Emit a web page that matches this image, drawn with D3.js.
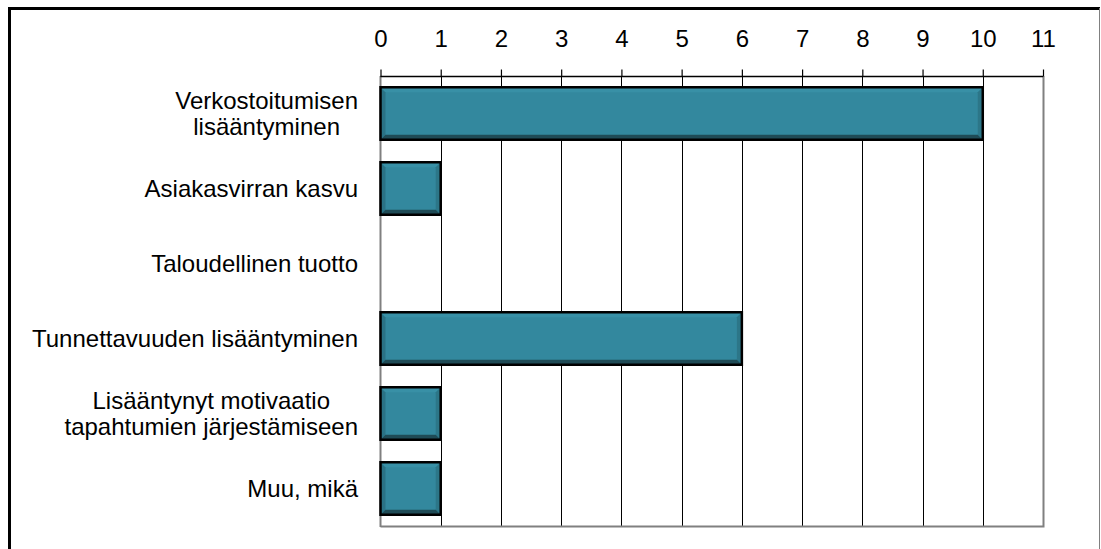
<!DOCTYPE html>
<html>
<head>
<meta charset="utf-8">
<script src="https://cdn.jsdelivr.net/npm/d3@7"></script>
<style>
  body { margin: 0; background: #fff; }
  text { font-family: "Liberation Sans", Arial, sans-serif; fill: #000; }
</style>
</head>
<body>
<div id="chart"></div>
<script>
//Data
var categories = [
	["Verkostoitumisen", "lisääntyminen"],
	["Asiakasvirran kasvu"],
	["Taloudellinen tuotto"],
	["Tunnettavuuden lisääntyminen"],
	["Lisääntynyt motivaatio", "tapahtumien järjestämiseen"],
	["Muu, mikä"]
];
var values = [10, 1, 0, 6, 1, 1];
var tickValues = [0, 1, 2, 3, 4, 5, 6, 7, 8, 9, 10, 11];

var W = 1101, H = 549;

var svg = d3.select("#chart").append("svg")
	.attr("width", W)
	.attr("height", H);

//Outer frame
svg.append("path")
	.attr("d", "M9.5,549 L9.5,8.5 L1100,8.5")
	.style("fill", "none")
	.style("stroke", "#000")
	.style("stroke-width", 3);
svg.append("line")
	.attr("x1", 1099.5).attr("x2", 1099.5)
	.attr("y1", 8).attr("y2", 549)
	.style("stroke", "#808080")
	.style("stroke-width", 1);

//Scales
var x = d3.scaleLinear()
	.domain([0, 11])
	.range([380.5, 1043]);

var y = d3.scaleBand()
	.domain(d3.range(categories.length))
	.range([76, 526])
	.paddingInner(0.3)
	.paddingOuter(0.15);

var plotTop = 76, plotBottom = 526;

//Gridlines
svg.append("g").selectAll("line")
	.data(tickValues.slice(1, -1))
	.enter().append("line")
	.attr("x1", function(d) { return Math.round(x(d)) + 0.5; })
	.attr("x2", function(d) { return Math.round(x(d)) + 0.5; })
	.attr("y1", plotTop)
	.attr("y2", plotBottom)
	.style("stroke", "#000")
	.style("stroke-width", 1);

//Plot frame (right and bottom gray)
svg.append("path")
	.attr("d", "M" + (Math.round(x(11)) + 0.5) + "," + plotTop + " L" + (Math.round(x(11)) + 0.5) + "," + (plotBottom + 0.5) + " L" + x(0) + "," + (plotBottom + 0.5))
	.style("fill", "none")
	.style("stroke", "#808080")
	.style("stroke-width", 2);

//Left axis line
svg.append("line")
	.attr("x1", x(0)).attr("x2", x(0))
	.attr("y1", plotTop).attr("y2", plotBottom + 1)
	.style("stroke", "#808080")
	.style("stroke-width", 2);

//Top axis
var xAxis = d3.axisTop(x)
	.tickValues(tickValues)
	.tickSize(7)
	.tickPadding(23)
	.tickFormat(d3.format("d"));

var axisG = svg.append("g")
	.attr("transform", "translate(0," + (plotTop + 0.5) + ")")
	.call(xAxis);
axisG.select(".domain")
	.attr("d", "M" + x(0) + ",0H" + x(11))
	.style("stroke", "#000")
	.style("stroke-width", 1.5);
axisG.selectAll(".tick line").style("stroke", "#000").style("stroke-width", 1.2);
axisG.selectAll(".tick text")
	.style("font-size", "24px")
	.style("font-family", "'Liberation Sans', Arial, sans-serif")
	.attr("fill", "#000");

//Bars with bevel
var b = 5;
var barG = svg.append("g").selectAll("g")
	.data(values.map(function(v, i) { return {v: v, i: i}; }).filter(function(d) { return d.v > 0; }))
	.enter().append("g");

function poly(pts) { return "M" + pts.map(function(p) { return p.join(","); }).join("L") + "Z"; }

barG.each(function(d) {
	var g = d3.select(this);
	var x0 = x(0), x1 = x(d.v), y0 = y(d.i), y1 = y(d.i) + y.bandwidth();
	g.append("rect")
		.attr("x", x0).attr("y", y0)
		.attr("width", x1 - x0).attr("height", y1 - y0)
		.style("fill", "#33889E");
	//left bevel
	g.append("path").attr("d", poly([[x0, y0], [x0 + b, y0 + b], [x0 + b, y1 - b], [x0, y1]])).style("fill", "#2A7285");
	//top bevel
	g.append("path").attr("d", poly([[x0, y0], [x1, y0], [x1 - b, y0 + b], [x0 + b, y0 + b]])).style("fill", "#3890A6");
	//right bevel
	g.append("path").attr("d", poly([[x1, y0], [x1, y1], [x1 - b, y1 - b], [x1 - b, y0 + b]])).style("fill", "#2C7688");
	//bottom bevel
	g.append("path").attr("d", poly([[x0, y1], [x0 + b, y1 - b], [x1 - b, y1 - b], [x1, y1]])).style("fill", "#1F4B56");
	//outline
	g.append("rect")
		.attr("x", x0).attr("y", y0)
		.attr("width", x1 - x0).attr("height", y1 - y0)
		.style("fill", "none")
		.style("stroke", "#000")
		.style("stroke-width", 2.5);
});

//Category labels
var labelRight = 358;
var lineH = 26;
var labelG = svg.append("g");
categories.forEach(function(lines, i) {
	var cy = y(i) + y.bandwidth() / 2;
	var t = labelG.append("text")
		.style("font-size", "24px")
		.attr("text-anchor", "middle");
	var spans = lines.map(function(l, j) {
		return t.append("tspan")
			.attr("y", cy + (j - (lines.length - 1) / 2) * lineH)
			.attr("dy", "0.35em")
			.text(l);
	});
	var maxW = d3.max(spans, function(s) { return s.node().getComputedTextLength(); });
	spans.forEach(function(s) { s.attr("x", labelRight - maxW / 2); });
});
</script>
</body>
</html>
